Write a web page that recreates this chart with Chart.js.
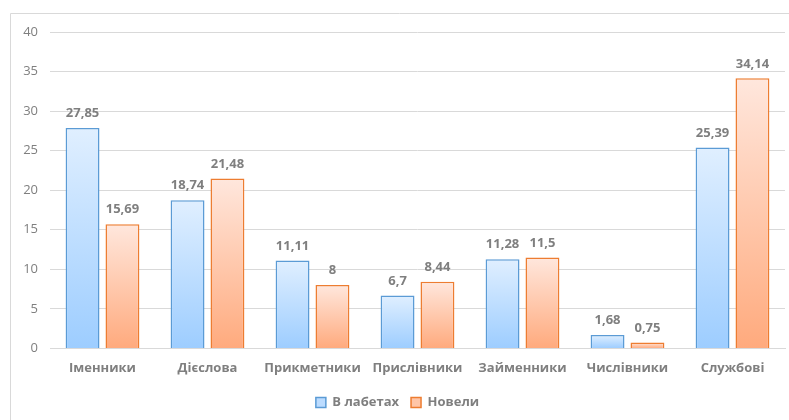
<!DOCTYPE html>
<html>
<head>
<meta charset="utf-8">
<script src="https://cdn.jsdelivr.net/npm/chart.js@4"></script>
<style>
  html, body { margin: 0; padding: 0; background: #fff; }
  #wrap { width: 789px; height: 420px; }
</style>
</head>
<body>
<div id="wrap"><canvas id="myChart" width="789" height="420"></canvas></div>
<script>
var categories = ['Іменники', 'Дієслова', 'Прикметники', 'Прислівники', 'Займенники', 'Числівники', 'Службові'];
var seriesNames = ['В лабетах', 'Новели'];
var lambetValues = [27.85, 18.74, 11.11, 6.7, 11.28, 1.68, 25.39];
var noveliValues = [15.69, 21.48, 8, 8.44, 11.5, 0.75, 34.14];
var yTicks = [0, 5, 10, 15, 20, 25, 30, 35, 40];

var FONT = '"Open Sans", "DejaVu Sans", sans-serif';
var GREY = '#7f7f7f';

// vertical gradient per bar, light at top
function barGradient(top, bottom) {
  return function (c) {
    var chart = c.chart;
    var y = chart.scales.y;
    if (!y || c.type !== 'data') return bottom;
    var v = c.raw;
    var yTop = y.getPixelForValue(v);
    var yBot = y.getPixelForValue(0);
    if (!isFinite(yTop) || yBot - yTop < 1) return bottom;
    var g = chart.ctx.createLinearGradient(0, yTop, 0, yBot);
    g.addColorStop(0, top);
    g.addColorStop(1, bottom);
    return g;
  };
}

// frame around the chart (only left and top are visible)
var framePlugin = {
  id: 'frame',
  beforeDraw: function (chart) {
    var ctx = chart.ctx;
    ctx.save();
    ctx.strokeStyle = '#d9d9d9';
    ctx.lineWidth = 1;
    ctx.beginPath();
    ctx.moveTo(10.5, 420);
    ctx.lineTo(10.5, 13.5);
    ctx.lineTo(789, 13.5);
    ctx.stroke();
    ctx.restore();
  }
};

// value labels above bars
var valueLabels = {
  id: 'valueLabels',
  afterDatasetsDraw: function (chart) {
    var ctx = chart.ctx;
    ctx.save();
    ctx.font = 'bold 13px ' + FONT;
    ctx.fillStyle = GREY;
    ctx.textAlign = 'center';
    ctx.textBaseline = 'bottom';
    chart.data.datasets.forEach(function (ds, i) {
      chart.getDatasetMeta(i).data.forEach(function (bar, j) {
        var txt = String(ds.data[j]).replace('.', ',');
        ctx.fillText(txt, bar.x, bar.y - 8);
      });
    });
    ctx.restore();
  }
};

var ctx = document.getElementById('myChart').getContext('2d');
var myChart = new Chart(ctx, {
  type: 'bar',
  data: {
    labels: categories,
    datasets: [{
      label: seriesNames[0],
      data: lambetValues,
      backgroundColor: barGradient('#e0efff', '#9dcdff'),
      borderColor: '#5b9bd5',
      borderWidth: 1.5,
      categoryPercentage: 0.76,
      barPercentage: 0.85
    }, {
      label: seriesNames[1],
      data: noveliValues,
      backgroundColor: barGradient('#ffe7dd', '#ffaa7d'),
      borderColor: '#ed7d31',
      borderWidth: 1.5,
      categoryPercentage: 0.76,
      barPercentage: 0.85
    }]
  },
  options: {
    responsive: false,
    animation: false,
    layout: { padding: { left: 10, right: 4, top: 32, bottom: 1 } },
    plugins: {
      tooltip: { enabled: false },
      legend: {
        position: 'bottom',
        labels: {
          boxWidth: 10,
          boxHeight: 10,
          padding: 12,
          color: GREY,
          font: { family: FONT, size: 13, weight: 'bold' },
          generateLabels: function (chart) {
            var fills = ['#bcdcff', '#ffc6a8'];
            var strokes = ['#5b9bd5', '#ed7d31'];
            return seriesNames.map(function (n, i) {
              return {
                text: n, fillStyle: fills[i], strokeStyle: strokes[i],
                lineWidth: 1.5, datasetIndex: i, fontColor: GREY
              };
            });
          }
        }
      }
    },
    scales: {
      x: {
        grid: { display: false },
        border: { color: '#d9d9d9' },
        ticks: {
          color: GREY,
          padding: 4,
          font: { family: FONT, size: 13, weight: 'bold' }
        },
        afterFit: function (s) { s.height += 4; }
      },
      y: {
        min: 0,
        max: 40,
        afterFit: function (s) { s.width = 40; },
        afterBuildTicks: function (s) {
          s.ticks = yTicks.map(function (v) { return { value: v }; });
        },
        grid: { color: '#d9d9d9', drawTicks: false },
        border: { display: false },
        ticks: {
          color: GREY,
          padding: 12,
          font: { family: FONT, size: 13 }
        }
      }
    }
  },
  plugins: [framePlugin, valueLabels]
});
</script>
</body>
</html>
